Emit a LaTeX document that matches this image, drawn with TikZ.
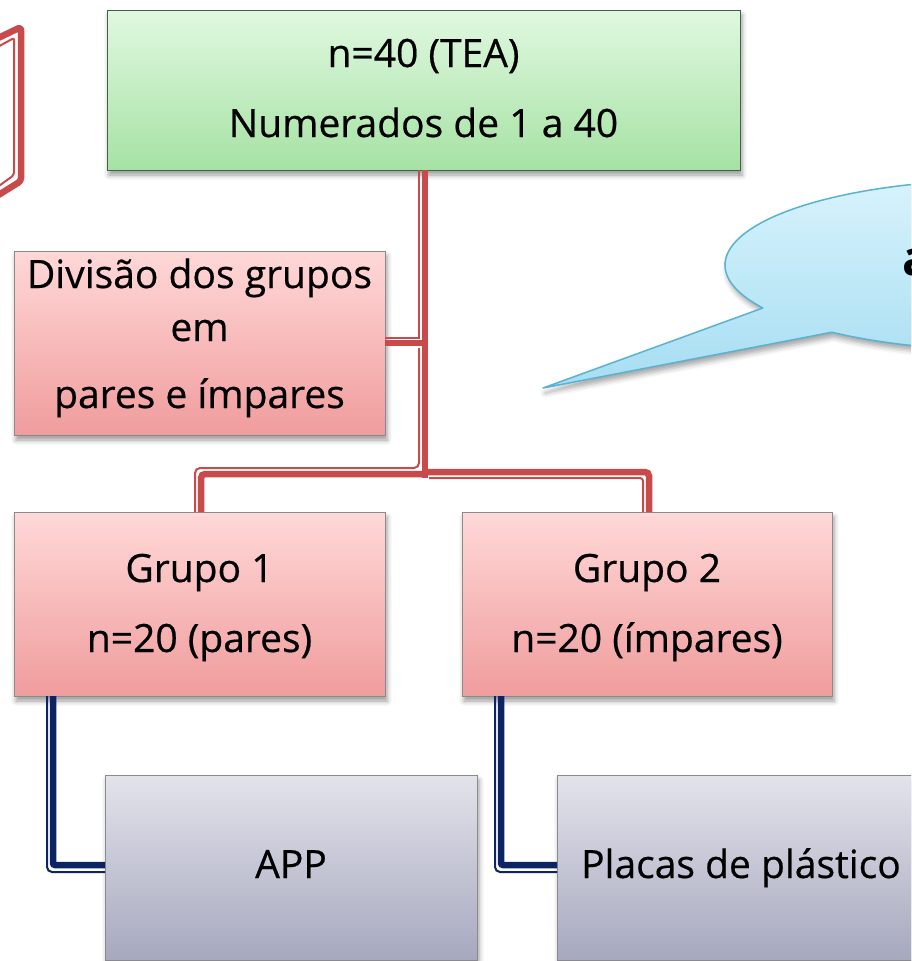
\documentclass[tikz,border=0pt]{standalone}
\usepackage{fontspec}
\setmainfont{Open Sans}
\newfontfamily\lblfont{Open Sans}[FakeBold=0.5]
\usetikzlibrary{shadows.blur}
\definecolor{redline}{HTML}{C94A4A}
\definecolor{navyline}{HTML}{0C2463}
\definecolor{greentop}{HTML}{E0F8E0}
\definecolor{greenbot}{HTML}{A6E2A4}
\definecolor{pinktop}{HTML}{FFD8D8}
\definecolor{pinkbot}{HTML}{F09C9C}
\definecolor{graytop}{HTML}{E3E3EB}
\definecolor{graybot}{HTML}{A6A8BE}
\definecolor{bubtop}{HTML}{DAF4FD}
\definecolor{bubbot}{HTML}{A6DDF2}
\definecolor{bubline}{HTML}{5AB2D0}
\definecolor{boxline}{HTML}{8A8A8A}
\begin{document}
\begin{tikzpicture}[x=1pt,y=-1pt,
  box/.style={rectangle, draw=boxline, line width=1pt, inner sep=0pt, outer sep=0pt,
    blur shadow={shadow xshift=2pt, shadow yshift=-5pt, shadow blur radius=5pt, shadow opacity=40}},
  greenbox/.style={box, draw=boxline!80!green!60!black, top color=greentop, bottom color=greenbot},
  pinkbox/.style={box, top color=pinktop, bottom color=pinkbot},
  graybox/.style={box, top color=graytop, bottom color=graybot},
  lbl/.style={font=\lblfont\fontsize{39}{44}\selectfont, inner sep=0pt, anchor=base, text=black},
  rthick/.style={draw=redline, line width=6.5pt},
  rthin/.style={draw=redline, line width=2pt},
  nthick/.style={draw=navyline, line width=6.5pt},
  nthin/.style={draw=navyline, line width=2pt},
]
\useasboundingbox (0,0) rectangle (911,961);
\clip (0,0) rectangle (911,961);

% partial red shape at top left
\draw[rthick, rounded corners=3pt, line join=round] (-8,41) -- (21,27) -- (21,181) -- (-8,199);
\draw[rthin, rounded corners=2pt] (-8,50) -- (14,38) -- (14,175) -- (-8,191);

% speech bubble
\path[fill=white, blur shadow={shadow xshift=2pt, shadow yshift=-5pt, shadow blur radius=5pt, shadow opacity=35}]
  (762.8,308.0) arc[start angle=149.6, end angle=487.7, x radius=275, y radius=85] -- (543,388) -- cycle;
\path[draw=bubline, line width=1.5pt, top color=bubtop, bottom color=bubbot, line join=round]
  (762.8,308.0) arc[start angle=149.6, end angle=487.7, x radius=275, y radius=85] -- (543,388) -- cycle;
\node[font=\fontsize{48}{52}\selectfont\bfseries, inner sep=0pt, anchor=base west] (bubtext) at (902,275) {a};

% boxes
\node[greenbox, minimum width=633pt, minimum height=160pt] (green) at (423.5,90) {};
\node[pinkbox, minimum width=371pt, minimum height=184pt] (div) at (199.5,343) {};
\node[pinkbox, minimum width=371pt, minimum height=184pt] (g1) at (199.5,604) {};
\node[pinkbox, minimum width=370pt, minimum height=184pt] (g2) at (647,604) {};
\node[graybox, minimum width=372pt, minimum height=185pt] (app) at (291,867.5) {};
\node[graybox, minimum width=368pt, minimum height=185pt] (placas) at (741,867.5) {};

% junction of the red tree
\coordinate (J) at (422,473);

% red connectors (thick-thin compound line)
\draw[rthick] ([xshift=1.5pt]green.south) -- ([xshift=3pt,yshift=-5pt]J);
\draw[rthick] (div.east) -- ([xshift=3pt]J |- div.east);
\draw[rthick, rounded corners=4pt] ([xshift=3pt,yshift=-1pt]J) -| ([xshift=1.5pt]g1.north);
\draw[rthick, rounded corners=4pt] ([xshift=3pt,yshift=1pt]J) -| ([xshift=2pt]g2.north);
\draw[rthin] ([xshift=-4.5pt]green.south) -- ([xshift=-3pt,yshift=5pt]J |- div.east) -- ([yshift=5pt]div.east);
\draw[rthin, rounded corners=5pt] ([xshift=-3pt,yshift=-5pt]J |- div.east) -- ([xshift=-3pt,yshift=5pt]J) -| ([xshift=-4.5pt]g1.north);
\draw[rthin, rounded corners=3pt] ([xshift=7pt,yshift=-5pt]J) -| ([xshift=-4pt]g2.north);

% navy connectors
\draw[nthick, rounded corners=2pt] ([xshift=39pt]g1.south west) |- ([yshift=2.5pt]app.west);
\draw[nthin, rounded corners=5pt] ([xshift=33pt]g1.south west) |- ([yshift=-4.5pt]app.west);
\draw[nthick, rounded corners=2pt] ([xshift=39pt]g2.south west) |- ([yshift=2.5pt]placas.west);
\draw[nthin, rounded corners=5pt] ([xshift=33pt]g2.south west) |- ([yshift=-4.5pt]placas.west);

% texts
\node[lbl] (t1) at (423.5,67) {n=40 (TEA)};
\node[lbl] (t2) at (423.5,137) {Numerados de 1 a 40};
\node[lbl] (t3) at (199.5,288) {Divisão dos grupos};
\node[lbl] (t4) at (199.5,341) {em};
\node[lbl] (t5) at (199.5,408) {pares e ímpares};
\node[lbl] (t6) at (199.5,582) {Grupo 1};
\node[lbl] (t7) at (199.5,652) {n=20 (pares)};
\node[lbl] (t8) at (647,582) {Grupo 2};
\node[lbl] (t9) at (647,652) {n=20 (ímpares)};
\node[lbl] (t10) at (291,878) {APP};
\node[lbl] (t11) at (741,878) {Placas de plástico};
\end{tikzpicture}
\end{document}
